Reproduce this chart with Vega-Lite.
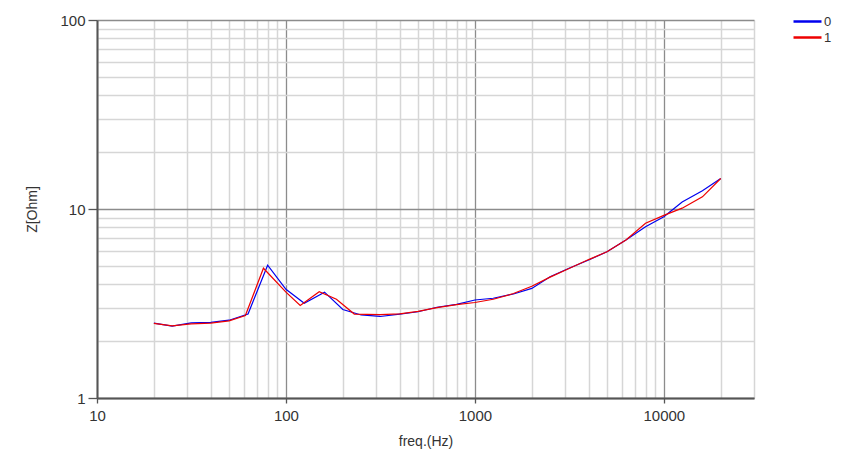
{
  "$schema": "https://vega.github.io/schema/vega-lite/v6.json",
  "description": "Impedance curves Z[Ohm] vs frequency, two channels",
  "autosize": "none",
  "width": 657,
  "height": 378,
  "padding": {"left": 97, "top": 20, "right": 106, "bottom": 65},
  "background": "white",
  "config": {
    "view": {"stroke": null},
    "font": "Liberation Sans",
    "axis": {"labelFont": "Liberation Sans", "titleFont": "Liberation Sans", "titleFontWeight": "normal", "labelColor": "#333333", "titleColor": "#333333", "labelFlush": false}
  },
  "data": {
    "values": [
      {"f": 20, "z": 2.49, "s": "0"}, {"f": 25, "z": 2.40, "s": "0"}, {"f": 31.5, "z": 2.50, "s": "0"},
      {"f": 40, "z": 2.51, "s": "0"}, {"f": 50, "z": 2.58, "s": "0"}, {"f": 63, "z": 2.78, "s": "0"},
      {"f": 80, "z": 5.04, "s": "0"}, {"f": 100, "z": 3.76, "s": "0"}, {"f": 125, "z": 3.17, "s": "0"},
      {"f": 160, "z": 3.63, "s": "0"}, {"f": 200, "z": 2.94, "s": "0"}, {"f": 250, "z": 2.75, "s": "0"},
      {"f": 315, "z": 2.70, "s": "0"}, {"f": 400, "z": 2.78, "s": "0"}, {"f": 500, "z": 2.86, "s": "0"},
      {"f": 630, "z": 3.02, "s": "0"}, {"f": 800, "z": 3.13, "s": "0"}, {"f": 1000, "z": 3.30, "s": "0"},
      {"f": 1250, "z": 3.37, "s": "0"}, {"f": 1600, "z": 3.55, "s": "0"}, {"f": 2000, "z": 3.80, "s": "0"},
      {"f": 2500, "z": 4.38, "s": "0"}, {"f": 3150, "z": 4.86, "s": "0"}, {"f": 4000, "z": 5.37, "s": "0"},
      {"f": 5000, "z": 5.94, "s": "0"}, {"f": 6300, "z": 6.86, "s": "0"}, {"f": 8000, "z": 8.06, "s": "0"},
      {"f": 10000, "z": 9.10, "s": "0"}, {"f": 12500, "z": 10.9, "s": "0"}, {"f": 16000, "z": 12.5, "s": "0"},
      {"f": 20000, "z": 14.5, "s": "0"},
      {"f": 20, "z": 2.48, "s": "1"}, {"f": 25, "z": 2.41, "s": "1"}, {"f": 31.5, "z": 2.47, "s": "1"},
      {"f": 40, "z": 2.49, "s": "1"}, {"f": 50, "z": 2.56, "s": "1"}, {"f": 61, "z": 2.73, "s": "1"},
      {"f": 76, "z": 4.86, "s": "1"}, {"f": 100, "z": 3.63, "s": "1"}, {"f": 119, "z": 3.09, "s": "1"},
      {"f": 150, "z": 3.65, "s": "1"}, {"f": 185, "z": 3.33, "s": "1"}, {"f": 230, "z": 2.78, "s": "1"},
      {"f": 315, "z": 2.76, "s": "1"}, {"f": 400, "z": 2.79, "s": "1"}, {"f": 500, "z": 2.87, "s": "1"},
      {"f": 630, "z": 3.01, "s": "1"}, {"f": 800, "z": 3.12, "s": "1"}, {"f": 1000, "z": 3.20, "s": "1"},
      {"f": 1250, "z": 3.33, "s": "1"}, {"f": 1600, "z": 3.57, "s": "1"}, {"f": 2000, "z": 3.90, "s": "1"},
      {"f": 2500, "z": 4.36, "s": "1"}, {"f": 3150, "z": 4.84, "s": "1"}, {"f": 4000, "z": 5.40, "s": "1"},
      {"f": 5000, "z": 5.94, "s": "1"}, {"f": 6300, "z": 6.86, "s": "1"}, {"f": 8000, "z": 8.40, "s": "1"},
      {"f": 10000, "z": 9.25, "s": "1"}, {"f": 12500, "z": 10.1, "s": "1"}, {"f": 16000, "z": 11.6, "s": "1"},
      {"f": 20000, "z": 14.5, "s": "1"}
    ]
  },
  "layer": [
    {
      "mark": {"type": "line", "strokeOpacity": 0},
      "encoding": {
        "x": {
          "field": "f", "type": "quantitative",
          "scale": {"type": "log", "domain": [10, 30000], "nice": false},
          "axis": {
            "orient": "bottom",
            "values": [20, 30, 40, 50, 60, 70, 80, 90, 200, 300, 400, 500, 600, 700, 800, 900, 2000, 3000, 4000, 5000, 6000, 7000, 8000, 9000, 20000, 30000],
            "grid": true, "gridColor": "#d6d6d6", "gridWidth": 1.5,
            "labels": false, "ticks": false, "domain": false, "title": null
          }
        },
        "y": {
          "field": "z", "type": "quantitative",
          "scale": {"type": "log", "domain": [1, 100], "nice": false},
          "axis": {
            "orient": "left",
            "values": [2, 3, 4, 5, 6, 7, 8, 9, 20, 30, 40, 50, 60, 70, 80, 90],
            "grid": true, "gridColor": "#d6d6d6", "gridWidth": 1.5,
            "labels": false, "ticks": false, "domain": false, "title": null
          }
        },
        "detail": {"field": "s"}
      }
    },
    {
      "mark": {"type": "line", "strokeWidth": 1.2},
      "encoding": {
        "x": {
          "field": "f", "type": "quantitative",
          "axis": {
            "orient": "bottom",
            "values": [10, 100, 1000, 10000], "format": "d",
            "grid": true, "gridColor": "#8c8c8c", "gridWidth": 1.3,
            "domainColor": "#555555", "domainWidth": 2,
            "tickColor": "#555555", "tickSize": 5, "tickWidth": 1.3,
            "labelFontSize": 15, "labelPadding": 5,
            "title": "freq.(Hz)", "titleFontSize": 14, "titlePadding": 11
          }
        },
        "y": {
          "field": "z", "type": "quantitative",
          "axis": {
            "orient": "left",
            "values": [1, 10, 100], "format": "d",
            "grid": true, "gridColor": "#8c8c8c", "gridWidth": 1.3,
            "domainColor": "#555555", "domainWidth": 2,
            "tickColor": "#555555", "tickSize": 9, "tickWidth": 1.3,
            "labelFontSize": 15, "labelPadding": 3,
            "title": "Z[Ohm]", "titleFontSize": 14, "titlePadding": 20
          }
        },
        "color": {
          "field": "s", "type": "nominal",
          "scale": {"domain": ["0", "1"], "range": ["#0000ee", "#ee0000"]},
          "legend": {
            "title": null, "orient": "none", "legendX": 702, "legendY": -7,
            "padding": 0, "symbolType": "M-2,0H2", "symbolSize": 196,
            "symbolStrokeWidth": 2.5, "labelFontSize": 13, "labelColor": "#333333",
            "labelOffset": 8, "rowPadding": -1
          }
        }
      }
    }
  ],
  "resolve": {"axis": {"x": "independent", "y": "independent"}}
}
